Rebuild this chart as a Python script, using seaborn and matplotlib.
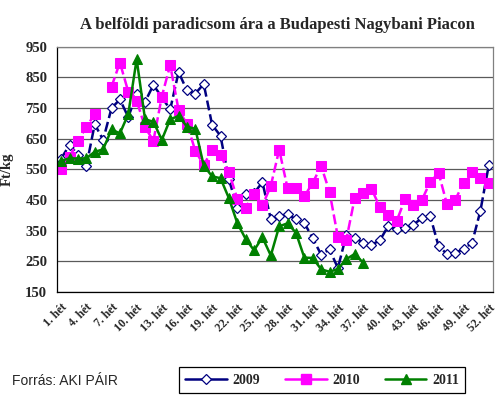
import numpy as np
import pandas as pd
import matplotlib
matplotlib.use('Agg')
import matplotlib.pyplot as plt
import matplotlib.transforms as mtransforms
from matplotlib.lines import Line2D
import seaborn as sns

# weekly tomato prices, Ft/kg
weeks = list(range(1, 53))
price_2009 = [585, 630, 597, 561, 697, 646, 749, 778, 720, 796, 770, 825, 785, 745,
              867, 807, 797, 828, 695, 659, 517, 425, 468, 472, 508, 387, 398, 403,
              387, 375, 325, 272, 289, 228, 335, 327, 311, 304, 318, 365, 354, 358,
              370, 390, 399, 300, 274, 278, 290, 310, 415, 564]
price_2010 = [550, 591, 643, 688, 730, np.nan, 819, 898, 803, 774, 687, 643, 787, 890,
              743, 698, 610, 564, 613, 596, 541, 454, 425, 470, 432, 496, 614, 488,
              488, 462, 506, 561, 477, 329, 320, 455, 473, 487, 427, 400, 381, 452,
              432, 449, 508, 539, 437, 451, 506, 542, 521, 506]
price_2011 = [578, 586, 585, 586, 607, 615, 680, 667, 730, 909, 713, 705, 646, 713,
              724, 689, 682, 562, 527, 521, 456, 375, 323, 286, 328, 269, 364, 374,
              343, 262, 261, 224, 216, 225, 257, 274, 246]
years = ['2009', '2010', '2011']
y_ticks = list(range(150, 951, 100))
x_labels = [f"{w}. hét" for w in weeks[::3]]

NAVY = '#000080'
MAGENTA = '#FF00FF'
GREEN = '#008000'
SERIF = 'Liberation Serif'

sns.set_style('white')
plt.rcParams['font.family'] = [SERIF, 'DejaVu Sans']


def to_frame(values):
    """long table with a segment id so that missing weeks leave a gap"""
    df = pd.DataFrame({'week': weeks[:len(values)], 'price': values})
    df['seg'] = df['price'].isna().cumsum()
    return df.dropna()


fig = plt.figure(figsize=(5.0, 3.97), dpi=100)
ax = fig.add_axes([57 / 500, 1 - 292 / 397, (493 - 57) / 500, (292 - 46.6) / 397])

styles = {
    '2009': dict(color=NAVY, marker='D', markersize=5, markerfacecolor='white',
                 markeredgecolor=NAVY, markeredgewidth=0.9, dashes=(4, 1.6)),
    '2010': dict(color=MAGENTA, marker='s', markersize=6.5, markerfacecolor=MAGENTA,
                 markeredgecolor=MAGENTA, dashes=(4, 1.6)),
    '2011': dict(color=GREEN, marker='^', markersize=6.5, markerfacecolor=GREEN,
                 markeredgecolor=GREEN),
}
series = {'2009': price_2009, '2010': price_2010, '2011': price_2011}

for yr in years:
    kw = dict(styles[yr])
    dashes = kw.pop('dashes', None)
    df = to_frame(series[yr])
    sns.lineplot(data=df, x='week', y='price', units='seg',
                 estimator=None, ax=ax, linewidth=1.8, legend=False, **kw)
    if dashes is not None:
        for ln in ax.lines[-df['seg'].nunique():]:
            ln.set_dashes(dashes)

ax.set_xlim(0.5, 52.5)
ax.set_ylim(150, 950)
ax.set_yticks(y_ticks)
ax.set_yticklabels([str(t) for t in y_ticks], fontsize=10.5, fontweight='bold')
ax.set_xticks(weeks[::3])
ax.set_xticklabels(x_labels, rotation=45, ha='right', va='top', rotation_mode='anchor',
                   fontsize=8.5, fontweight='bold')
shift = mtransforms.ScaledTranslation(-3 / 100, 0, fig.dpi_scale_trans)
for lbl in ax.get_xticklabels():
    lbl.set_transform(lbl.get_transform() + shift)
ax.set_xticks(np.arange(0.5, 53, 1), minor=True)
ax.tick_params(axis='x', which='major', length=0, pad=7)
ax.tick_params(axis='x', which='minor', length=4, width=0.8, color='black', direction='out')
ax.tick_params(axis='y', length=4, width=0.8, color='black', direction='out', pad=3)
ax.set_xlabel('')
ax.set_ylabel('Ft/kg', fontsize=10.5, fontweight='bold', labelpad=8)

ax.grid(axis='y', color='#5a5a5a', linewidth=0.9)
ax.grid(axis='x', visible=False)
ax.set_axisbelow(True)
for side in ['left', 'bottom']:
    ax.spines[side].set_color('black')
    ax.spines[side].set_linewidth(0.9)
for side in ['top', 'right']:
    ax.spines[side].set_color('#808080')
    ax.spines[side].set_linewidth(0.9)

fig.text(277 / 500, 1 - 25 / 397, 'A belföldi paradicsom ára a Budapesti Nagybani Piacon',
         ha='center', va='center', fontsize=12, fontweight='bold')
fig.text(12 / 500, 1 - 381 / 397, 'Forrás: AKI PÁIR', ha='left', va='center',
         fontsize=10, family='Liberation Sans')

handles = []
for yr in years:
    kw = dict(styles[yr])
    kw.pop('dashes', None)
    handles.append(Line2D([], [], linewidth=1.8, **kw))
leg = fig.legend(handles, years, loc='center', bbox_to_anchor=(322 / 500, 1 - 380 / 397),
                 ncol=3, frameon=True, fancybox=False, framealpha=1, edgecolor='black',
                 handlelength=3.0, columnspacing=1.8, handletextpad=0.4, borderpad=0.45,
                 prop={'family': SERIF, 'weight': 'bold', 'size': 10})
leg.get_frame().set_linewidth(0.9)

fig.savefig('out.png', dpi=100, facecolor='white')
